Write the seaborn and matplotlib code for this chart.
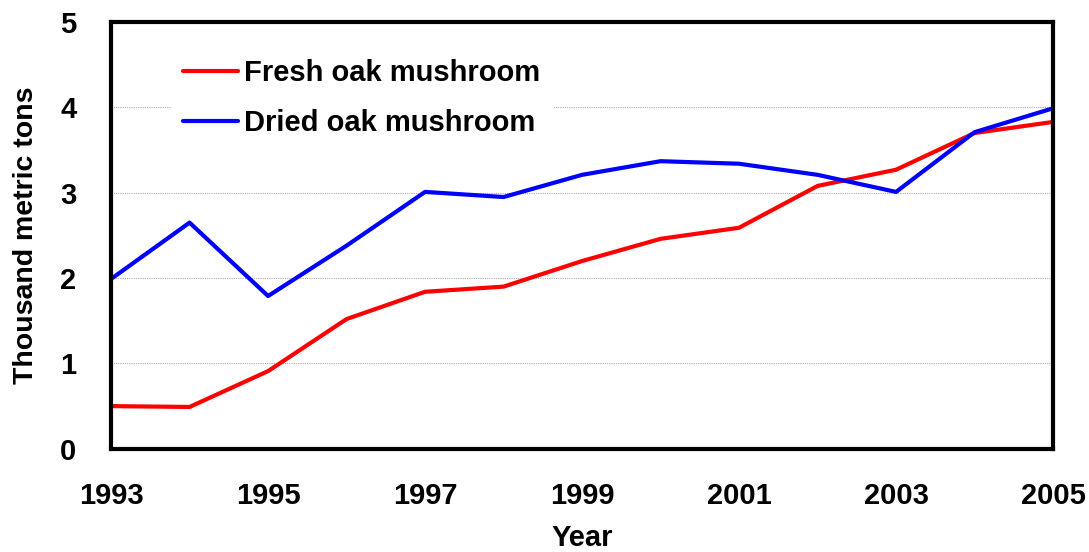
import numpy as np
import pandas as pd
import seaborn as sns
import matplotlib.pyplot as plt
from matplotlib.ticker import MultipleLocator

# data
years = list(range(1993, 2006))
fresh = [0.50, 0.49, 0.91, 1.52, 1.84, 1.90, 2.20, 2.46, 2.59, 3.08, 3.27, 3.70, 3.83]
dried = [1.99, 2.65, 1.79, 2.38, 3.01, 2.95, 3.21, 3.37, 3.34, 3.21, 3.01, 3.71, 3.99]
series_names = ["Fresh oak mushroom", "Dried oak mushroom"]
colors = ["#ff0000", "#0000ff"]

df = pd.DataFrame({
    "Year": years * 2,
    "Tons": fresh + dried,
    "Series": [series_names[0]] * len(years) + [series_names[1]] * len(years),
})

sns.set_style("white")
plt.rcParams['font.family'] = ['Liberation Sans', 'DejaVu Sans']
plt.rcParams['font.weight'] = 'bold'
plt.rcParams['text.color'] = 'black'
plt.rcParams['axes.labelcolor'] = 'black'

fig = plt.figure(figsize=(10.89, 5.52), dpi=100)
ax = fig.add_axes([0.102, 0.187, 0.865, 0.773])

sns.lineplot(data=df, x="Year", y="Tons", hue="Series", hue_order=series_names,
             palette=colors, linewidth=3, ax=ax)

ax.set_xlim(1993, 2005)
ax.set_ylim(0, 5)

# grid
ax.yaxis.grid(True, linestyle=(0, (1, 1)), color="#aaaaaa", linewidth=0.8)
ax.set_axisbelow(True)

# ticks
ax.xaxis.set_major_locator(MultipleLocator(2))
ax.xaxis.set_minor_locator(MultipleLocator(1))
ax.yaxis.set_major_locator(MultipleLocator(1))
ax.tick_params(axis="both", which="both", direction="in", length=8, width=1,
               color="#333333", labelcolor="black")
ax.tick_params(axis="x", which="major", pad=24)
ax.tick_params(axis="y", which="major", pad=25)
ax.set_xticks(years[::2])
ax.set_xticklabels([str(y) for y in years[::2]], fontsize=21, fontweight="bold")
ax.set_yticks(range(0, 6))
ax.set_yticklabels([str(v) for v in range(0, 6)], fontsize=21, fontweight="bold")

for s in ax.spines.values():
    s.set_visible(True)
    s.set_color("black")
    s.set_linewidth(3)

ax.set_xlabel("Year", fontsize=21, fontweight="bold", labelpad=10)
ax.set_ylabel("Thousand metric tons", fontsize=20.5, fontweight="bold", labelpad=15)

leg = ax.legend(loc="upper left", bbox_to_anchor=(0.048, 0.975), frameon=True,
                fontsize=21, handlelength=1.9, handletextpad=0.2,
                labelspacing=0.75, borderpad=0.4)
leg.get_frame().set_edgecolor("white")
leg.get_frame().set_facecolor("white")
leg.get_frame().set_alpha(1.0)
leg.get_frame().set_boxstyle("square", pad=0)
for t in leg.get_texts():
    t.set_fontweight("bold")

fig.savefig("out.png", dpi=100)
